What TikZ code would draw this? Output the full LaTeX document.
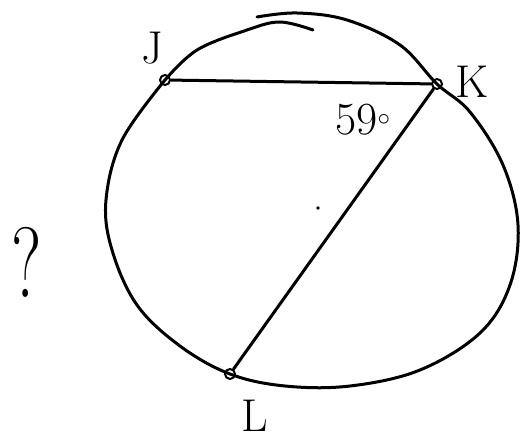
\documentclass[tikz,border=0pt]{standalone}
\usetikzlibrary{calc}
\begin{document}
\begin{tikzpicture}[x=1pt,y=-1pt,line width=3pt,line cap=round,line join=round,
  pt/.style={circle,draw,line width=2pt,inner sep=0pt,minimum size=10pt},
  lbl/.style={font=\fontsize{46}{46}\selectfont,inner sep=0pt}]
  \useasboundingbox (0,0) rectangle (520,441);
  % points on the circle
  \foreach \n/\x/\y in {J/165/80,K/437/84,L/230/374}{
    \node[pt] (\n) at (\x,\y){};
  }
  % circle, drawn in two strokes
  \draw plot[smooth,tension=0.6] coordinates {(165,80) (197,50) (247,30) (280,22) (313,30)};
  \draw plot[smooth,tension=0.6] coordinates {(257,17) (297,13) (347,20) (400,45) (437,84)
    (470,112) (503,165) (518,225) (510,285) (480,333) (420,370) (350,386)
    (285,386) (230,374) (180,346) (137,305) (112,250) (106,200) (122,140) (165,80)};
  % chords
  \draw (J) -- (K);
  \draw (K) -- (L);
  \fill (318,208) circle (1.8);
  % labels
  \node[lbl] (Jlab) at (152,48){J};
  \node[lbl] (Klab) at (472,82){K};
  \node[lbl] (Llab) at (255,416){L};
  \node[lbl] (ang) at (363,120){59$^{\circ}$};
  \node[font=\fontsize{100}{100}\selectfont,inner sep=0pt,xscale=0.7] (q) at (27,262){?};
\end{tikzpicture}
\end{document}
